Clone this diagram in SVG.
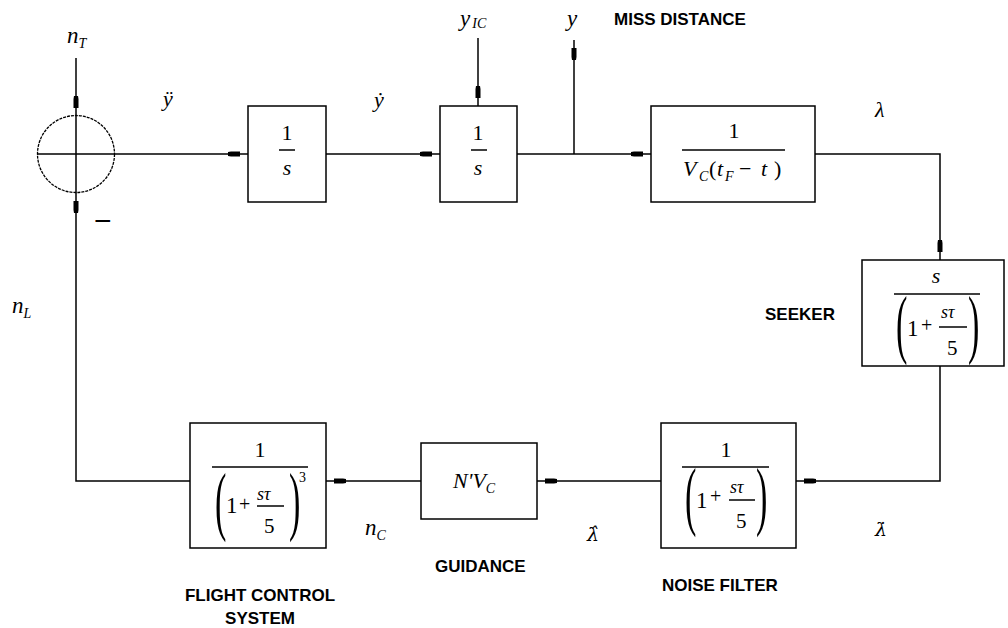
<svg xmlns="http://www.w3.org/2000/svg" width="1008" height="628" viewBox="0 0 1008 628">
<style>
.ln{fill:none;stroke:#000;stroke-width:1.5}
.bx{fill:#fff;stroke:#000;stroke-width:1.5}
.m{font-family:"Liberation Serif",serif;font-style:italic;font-size:22px;fill:#000}
.dj{font-family:"DejaVu Serif",serif;font-style:italic;font-size:19px;fill:#000}
.r{font-family:"Liberation Serif",serif;font-style:normal;font-size:22px;fill:#000}
.sub{font-size:14px}
.lbl{font-family:"Liberation Sans",Arial,sans-serif;font-weight:bold;font-size:17px;fill:#000}
.par{font-family:"Liberation Serif",serif;font-size:76px;fill:#000}
.pl{font-family:"Liberation Serif",serif;font-size:20px;fill:#000}
</style>
<defs>
<marker id="ah" markerUnits="userSpaceOnUse" viewBox="0 -4 22 8" markerWidth="22" markerHeight="8" refX="20" refY="0" orient="auto">
<path d="M0,-2 L3,-2.5 L12,-2.5 L12,2.5 L3,2.5 L0,2 Z" fill="#000"/>
</marker>
</defs>
<rect width="1008" height="628" fill="#fff"/>

<g id="connectors">
<path class="ln" d="M76,58 V116" marker-end="url(#ah)"/>
<path class="ln" d="M114,154 H248" marker-end="url(#ah)"/>
<path class="ln" d="M326,154 H440" marker-end="url(#ah)"/>
<path class="ln" d="M478,38 V106" marker-end="url(#ah)"/>
<path class="ln" d="M517,154 H651" marker-end="url(#ah)"/>
<path class="ln" d="M574,154 V40" marker-end="url(#ah)"/>
<path class="ln" d="M815,154 H940 V260" marker-end="url(#ah)"/>
<path class="ln" d="M940,366 V481 H796" marker-end="url(#ah)"/>
<path class="ln" d="M661,481 H537" marker-end="url(#ah)"/>
<path class="ln" d="M421,481 H326" marker-end="url(#ah)"/>
<path class="ln" d="M190,481 H76 V193" marker-end="url(#ah)"/>
</g>

<g id="labels">
<text class="m" x="67" y="43" style="font-size:23px">n<tspan class="sub" dy="5">T</tspan></text>
<text class="m" x="163" y="106">ÿ</text>
<text class="m" x="374" y="107">ẏ</text>
<text class="m" x="460" y="26" style="font-size:23px">y<tspan class="sub" dx="2" dy="2">IC</tspan></text>
<text class="m" x="567" y="26" style="font-size:23px">y</text>
<text class="lbl" x="614" y="25">MISS DISTANCE</text>
<text class="m" x="875" y="117">λ</text>
<text class="lbl" x="765" y="320">SEEKER</text>
<text class="dj" x="875" y="536">λ̇</text>
<text class="lbl" x="662" y="591">NOISE FILTER</text>
<text class="dj" x="587" y="541">λ̂</text>
<text class="lbl" x="435" y="572">GUIDANCE</text>
<text class="m" x="365" y="535" style="font-size:23px">n<tspan class="sub" dy="5">C</tspan></text>
<text class="lbl" x="260" y="601" text-anchor="middle">FLIGHT CONTROL</text>
<text class="lbl" x="260" y="624" text-anchor="middle">SYSTEM</text>
<text class="m" x="12" y="313" style="font-size:23px">n<tspan class="sub" dy="5">L</tspan></text>
</g>

<g id="sum">
<circle cx="76" cy="154" r="38.5" fill="none" stroke="#000" stroke-width="1.3" stroke-dasharray="3 1"/>
<path class="ln" d="M37,154 H114 M76,116 V193"/>
<text x="94" y="231" style="font-family:'Liberation Sans',sans-serif;font-size:30px">−</text>
</g>

<g id="int1">
<rect class="bx" x="248" y="106" width="78" height="96"/>
<text class="r" x="287" y="140" text-anchor="middle">1</text>
<path class="ln" d="M279,150 H295"/>
<text class="m" x="287" y="175" text-anchor="middle">s</text>
</g>

<g id="int2">
<rect class="bx" x="440" y="106" width="77" height="96"/>
<text class="r" x="478" y="140" text-anchor="middle">1</text>
<path class="ln" d="M471,150 H487"/>
<text class="m" x="478" y="175" text-anchor="middle">s</text>
</g>

<g id="kinematics">
<rect class="bx" x="651" y="106" width="164" height="96"/>
<text class="r" x="734" y="138" text-anchor="middle">1</text>
<path class="ln" d="M682,150 H785"/>
<text class="m" y="176"><tspan x="683">V</tspan><tspan class="sub" x="699" dy="5">C</tspan><tspan class="r" x="709" dy="-5">(</tspan><tspan x="717">t</tspan><tspan class="sub" x="725" dy="5">F</tspan><tspan class="r" x="739" dy="-5">−</tspan><tspan x="761">t</tspan><tspan class="r" x="774">)</tspan></text>
</g>

<g id="seeker">
<rect class="bx" x="862" y="260" width="142" height="106"/>
<text class="m" x="936" y="283" text-anchor="middle">s</text>
<path class="ln" d="M894,294 H980"/>
<text class="par" transform="translate(896,349) scale(0.45,1)">(</text>
<text class="r" x="907" y="336" style="font-size:23px">1</text>
<text class="pl" x="921" y="332">+</text>
<text class="m" x="941" y="318" style="font-size:18px">sτ</text>
<path class="ln" d="M939,327 H967"/>
<text class="r" x="947" y="355" style="font-size:21px">5</text>
<text class="par" transform="translate(968,349) scale(0.45,1)">)</text>
</g>

<g id="noise-filter">
<rect class="bx" x="661" y="423" width="135" height="125"/>
<text class="r" x="726" y="457" text-anchor="middle">1</text>
<path class="ln" d="M682,467 H769"/>
<text class="par" transform="translate(685,521) scale(0.45,1)">(</text>
<text class="r" x="696" y="508" style="font-size:23px">1</text>
<text class="pl" x="710" y="503">+</text>
<text class="m" x="730" y="493" style="font-size:18px">sτ</text>
<path class="ln" d="M729,500 H755"/>
<text class="r" x="736" y="528" style="font-size:21px">5</text>
<text class="par" transform="translate(756,521) scale(0.45,1)">)</text>
</g>

<g id="guidance">
<rect class="bx" x="421" y="443" width="116" height="76"/>
<text class="m" x="453" y="488">N'V<tspan class="sub" dy="5">C</tspan></text>
</g>

<g id="flight-control">
<rect class="bx" x="190" y="423" width="136" height="125"/>
<text class="r" x="260" y="457" text-anchor="middle">1</text>
<path class="ln" d="M212,467 H308"/>
<text class="par" transform="translate(215,526) scale(0.45,1)">(</text>
<text class="r" x="226" y="513" style="font-size:23px">1</text>
<text class="pl" x="239" y="511">+</text>
<text class="m" x="257" y="500" style="font-size:18px">sτ</text>
<path class="ln" d="M257,506 H284"/>
<text class="r" x="264" y="533" style="font-size:21px">5</text>
<text class="par" transform="translate(289,526) scale(0.45,1)">)</text>
<text class="r" x="299" y="482" style="font-size:14px">3</text>
</g>
</svg>
